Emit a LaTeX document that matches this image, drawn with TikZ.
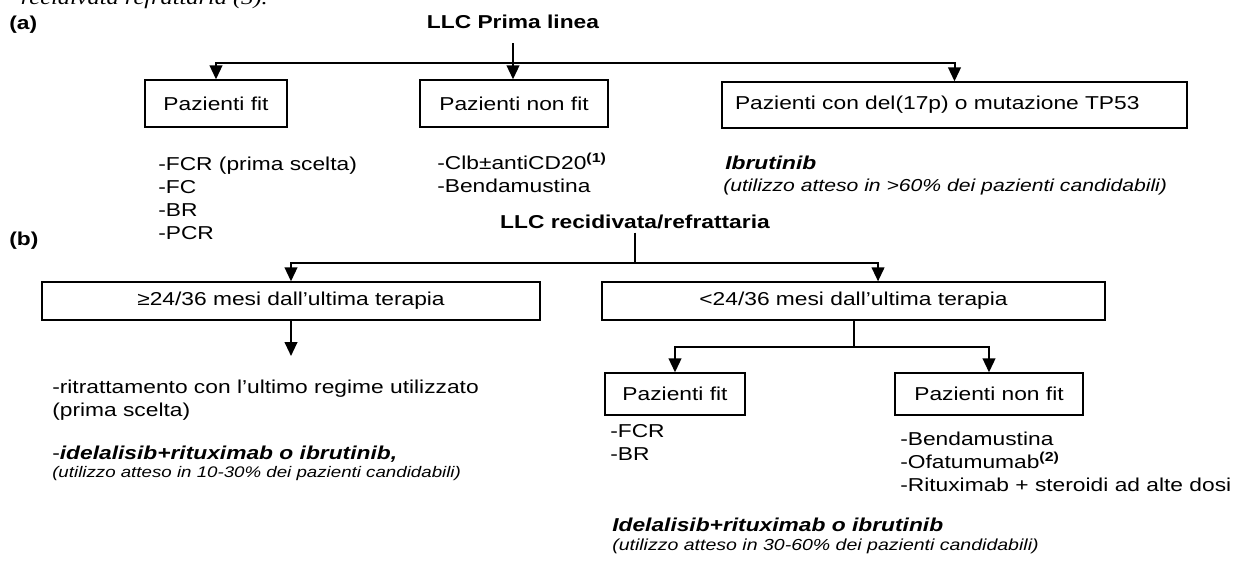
\documentclass[tikz,border=0pt]{standalone}
\usepackage{fontspec}
\setmainfont{Liberation Sans}[FakeStretch=1.22]
\newfontfamily\bfont{Liberation Sans Bold}[FakeStretch=1.22]
\newfontfamily\bifont{Liberation Sans Bold Italic}[FakeStretch=1.22]
\newfontfamily\capfont{Liberation Serif Italic}[FakeStretch=1.22]
\usetikzlibrary{arrows.meta}
\tikzset{
  box/.style={draw, line width=1pt, inner sep=0pt, font=\fontsize{14}{17}\selectfont},
  txt/.style={inner sep=0pt, anchor=base west, font=\fontsize{14}{17}\selectfont},
  bitxt/.style={inner sep=0pt, anchor=base west, font=\fontsize{14}{17}\selectfont\bifont},
  note/.style={inner sep=0pt, anchor=base west, font=\fontsize{12}{14}\selectfont\itshape},
  head/.style={inner sep=0pt, anchor=base, font=\fontsize{14}{17}\selectfont\bfont},
  lab/.style={inner sep=0pt, anchor=base west, font=\fontsize{14}{17}\selectfont\bfont},
  arr/.style={line width=1.5pt, -{Triangle[length=10.5pt,width=9.5pt]}},
  ln/.style={line width=1.5pt},
}
\begin{document}
\begin{tikzpicture}[x=0.75pt,y=-0.75pt]
\useasboundingbox (0,0) rectangle (1245,575);
% caption line cut off at the top edge
\node[inner sep=0pt, anchor=base east, font=\fontsize{15}{18}\selectfont\capfont] (cap) at (268,4) {recidivata refrattaria (3).};

% ---------- (a) ----------
\node[lab] (la) at (9,29) {(a)};
\node[head] (t1) at (513,28) {LLC Prima linea};

\node[box, minimum width=106.5pt, minimum height=35.25pt] (A1) at (216,103.5) {Pazienti fit};
\node[box, minimum width=141pt, minimum height=35.25pt] (A2) at (514,103.5) {Pazienti non fit};
\node[box, text width=329.25pt, inner xsep=9.75pt, align=left, minimum height=34.5pt] (A3) at (954.5,105) {Pazienti con del(17p) o mutazione TP53};

\coordinate (ha) at (513,63);
\draw[arr, shorten <=11pt] (t1.south) -- (t1.south |- A2.north);
\draw[arr] (ha) -| (A1.north);
\draw[arr] (ha) -| (A3.north);

\node[txt] (a11) at (158,170) {-FCR (prima scelta)};
\node[txt] (a12) at (158,193) {-FC};
\node[txt] (a13) at (158,216) {-BR};
\node[txt] (a14) at (158,239) {-PCR};

\node[txt] (a21) at (437,169) {-Clb±antiCD20\textsuperscript{\bfont(1)}};
\node[txt] (a22) at (437,192) {-Bendamustina};

\node[bitxt] (a31) at (725,169) {Ibrutinib};
\node[note, font=\fontsize{13}{15}\selectfont\itshape] (a32) at (723,191) {(utilizzo atteso in >60\% dei pazienti candidabili)};

% ---------- (b) ----------
\node[lab] (lb) at (9,245) {(b)};
\node[head] (t2) at (635,228) {LLC recidivata/refrattaria};

\node[box, minimum width=373.5pt, minimum height=28.5pt] (B1) at (291,301) {≥24/36 mesi dall’ultima terapia};
\node[box, minimum width=377.25pt, minimum height=28.5pt] (B2) at (853.5,301) {<24/36 mesi dall’ultima terapia};

\coordinate (hb) at (635,263);
\draw[ln, shorten <=3pt] (t2.south) -- (hb);
\draw[arr] (hb) -| (B1.north);
\draw[arr] (hb) -| ([xshift=18.4pt]B2.north);

\coordinate (r1) at (291,356);
\draw[arr] (B1.south) -- (r1);

\node[box, minimum width=105pt, minimum height=31.5pt] (C1) at (675,394) {Pazienti fit};
\node[box, minimum width=141pt, minimum height=31.5pt] (C2) at (989,394) {Pazienti non fit};

\coordinate (hc) at (853.5,347);
\draw[ln] (B2.south) -- (hc);
\draw[arr] (hc) -| (C1.north);
\draw[arr] (hc) -| (C2.north);

\node[txt] (b11) at (52,393) {-ritrattamento con l’ultimo regime utilizzato};
\node[txt] (b12) at (52,416) {(prima scelta)};
\node[txt] (b13) at (52,459) {-{\bifont idelalisib+rituximab o ibrutinib,}};
\node[note, font=\fontsize{11.5}{14}\selectfont\itshape] (b14) at (52,477) {(utilizzo atteso in 10-30\% dei pazienti candidabili)};

\node[txt] (c11) at (610,437) {-FCR};
\node[txt] (c12) at (610,460) {-BR};

\node[txt] (c21) at (900,445) {-Bendamustina};
\node[txt] (c22) at (900,468) {-Ofatumumab\textsuperscript{\bfont(2)}};
\node[txt] (c23) at (900,491) {-Rituximab + steroidi ad alte dosi};

\node[bitxt] (c31) at (612,531) {Idelalisib+rituximab o ibrutinib};
\node[note] (c32) at (612,550) {(utilizzo atteso in 30-60\% dei pazienti candidabili)};
\end{tikzpicture}
\end{document}
